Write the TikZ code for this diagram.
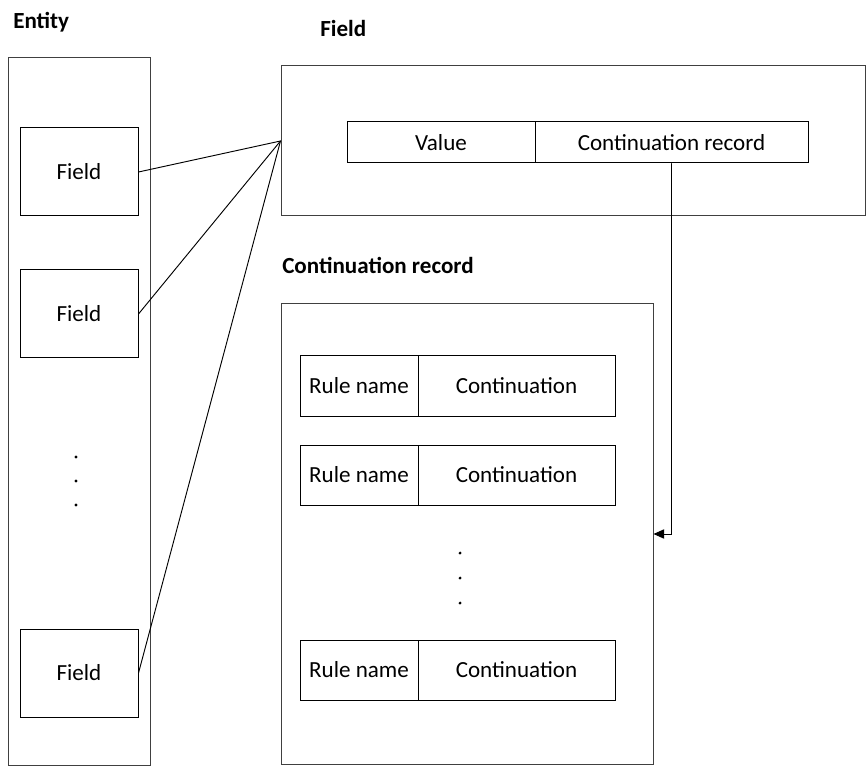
\documentclass[tikz,border=0pt]{standalone}
\usepackage{fontspec}
\setmainfont{Carlito}
\usepackage{tikz}
\usetikzlibrary{calc,arrows.meta}
\definecolor{ink}{HTML}{000000}
\definecolor{frame}{HTML}{404040}
\tikzset{
  box/.style={draw=ink, line width=0.75pt, rectangle, inner sep=0pt, font=\fontsize{17.3pt}{20pt}\selectfont},
  outer/.style={draw=frame, line width=0.75pt, rectangle, inner sep=0pt},
  link/.style={draw=ink, line width=0.7pt, line cap=round},
  title/.style={anchor=west, inner sep=0pt, font=\fontsize{17.3pt}{20pt}\selectfont\bfseries},
  dot/.style={circle, fill=ink, inner sep=0.8pt},
}
\begin{document}
\begin{tikzpicture}[x=0.75pt,y=-0.75pt]
  \useasboundingbox (0,0) rectangle (867,766);
  % titles
  \node[title] (tEntity) at (13,22) {Entity};
  \node[title] (tField) at (320,28) {Field};
  \node[title] (tCont) at (282,265) {Continuation record};
  % entity with its fields
  \node[outer,minimum width=142*0.75pt,minimum height=707*0.75pt] (entity) at (79,411.5) {};
  \node[box,minimum width=118*0.75pt,minimum height=88*0.75pt] (fA) at (79,172) {Field};
  \node[box,minimum width=118*0.75pt,minimum height=88*0.75pt] (fB) at (79,314) {Field};
  \node[box,minimum width=118*0.75pt,minimum height=88*0.75pt] (fC) at (79,673) {Field};
  \foreach \y in {457,481,505} \node[dot] at (76,\y) {};
  % field
  \node[outer,minimum width=584*0.75pt,minimum height=150*0.75pt] (field) at (573,141) {};
  \node[box,minimum width=188*0.75pt,minimum height=41*0.75pt] (value) at (441,142.5) {Value};
  \node[box,minimum width=273*0.75pt,minimum height=41*0.75pt] (crec) at (671.5,142.5) {Continuation record};
  % continuation record
  \node[outer,minimum width=372*0.75pt,minimum height=460*0.75pt] (cr) at (467,534) {};
  \foreach \i/\y in {1/386,2/475,3/670}{
    \node[box,minimum width=118*0.75pt,minimum height=60*0.75pt] (rule\i) at (359,\y) {Rule name};
    \node[box,minimum width=197*0.75pt,minimum height=60*0.75pt] (cont\i) at (516.5,\y) {Continuation};
  }
  \foreach \y in {553,578,603} \node[dot] at (460,\y) {};
  % links
  \coordinate (fieldpt) at (field.west);
  \draw[link] (fA.east) -- (fieldpt);
  \draw[link] (fB.east) -- (fieldpt);
  \draw[link] (fC.east) -- (fieldpt);
  \draw[link,-{Triangle[length=8pt,width=7pt]}] (crec.south) |- (cr.east);
\end{tikzpicture}
\end{document}
